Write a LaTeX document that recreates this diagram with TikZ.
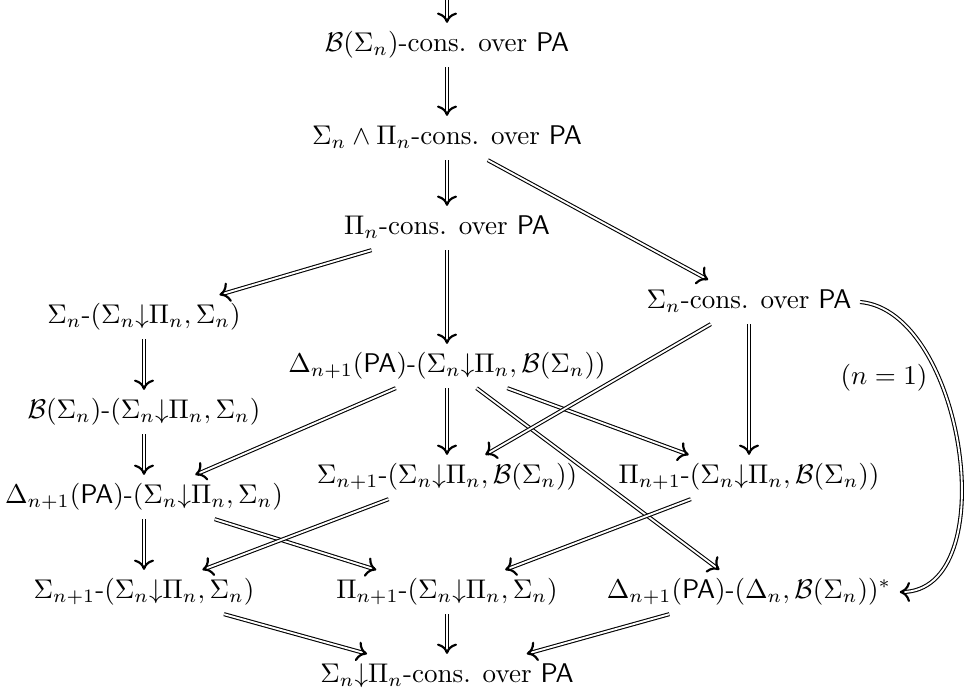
\documentclass[tikz,border=0pt]{standalone}
\usepackage{amsmath}
\usetikzlibrary{arrows.meta}
\begin{document}
\begin{tikzpicture}[x=0.37pt,y=-0.37pt,
  lbl/.style={inner sep=3pt, text height=7.5pt, text depth=2.5pt},
  imp/.style={double, double distance=0.7pt, line width=0.4pt,
    -{To[length=3.8pt,width=7.4pt,line width=0.8pt]}}]
\useasboundingbox (0,0) rectangle (964,698);
\coordinate (top) at (447,-40);
\node[lbl] (bc) at (447,45) {$\mathcal{B}(\Sigma_n)$-cons. over $\mathsf{PA}$};
\node[lbl] (sp) at (447,138) {$\Sigma_n\wedge\Pi_n$-cons. over $\mathsf{PA}$};
\node[lbl] (pc) at (447,228) {$\Pi_n$-cons. over $\mathsf{PA}$};
\node[lbl] (sn) at (144,317) {$\Sigma_n$-$(\Sigma_n{\downarrow}\Pi_n,\Sigma_n)$};
\node[lbl] (sc) at (749,302) {$\Sigma_n$-cons. over $\mathsf{PA}$};
\node[lbl] (dB) at (447,366) {$\Delta_{n+1}(\mathsf{PA})$-$(\Sigma_n{\downarrow}\Pi_n,\mathcal{B}(\Sigma_n))$};
\node[lbl] (bs) at (144,412) {$\mathcal{B}(\Sigma_n)$-$(\Sigma_n{\downarrow}\Pi_n,\Sigma_n)$};
\node (lab) at (884,378) {$(n=1)$};
\node[lbl] (sB) at (447,477) {$\Sigma_{n+1}$-$(\Sigma_n{\downarrow}\Pi_n,\mathcal{B}(\Sigma_n))$};
\node[lbl] (pB) at (749,477) {$\Pi_{n+1}$-$(\Sigma_n{\downarrow}\Pi_n,\mathcal{B}(\Sigma_n))$};
\node[lbl] (dS) at (144,497) {$\Delta_{n+1}(\mathsf{PA})$-$(\Sigma_n{\downarrow}\Pi_n,\Sigma_n)$};
\node[lbl] (sS) at (144,592) {$\Sigma_{n+1}$-$(\Sigma_n{\downarrow}\Pi_n,\Sigma_n)$};
\node[lbl] (pS) at (447,592) {$\Pi_{n+1}$-$(\Sigma_n{\downarrow}\Pi_n,\Sigma_n)$};
\node[lbl] (ds) at (749,592) {$\Delta_{n+1}(\mathsf{PA})$-$(\Delta_n,\mathcal{B}(\Sigma_n))^*$};
\node[lbl] (bot) at (447,676) {$\Sigma_n{\downarrow}\Pi_n$-cons. over $\mathsf{PA}$};
\draw[imp] (top) -- (bc);
\draw[imp] (bc) -- (sp);
\draw[imp] (sp) -- (pc);
\draw[imp] (sp) -- (sc);
\draw[imp] (pc) -- (sn);
\draw[imp] (pc) -- (dB);
\draw[imp] (sn) -- (bs);
\draw[imp] (bs) -- (dS);
\draw[imp] (dB) -- (dS);
\draw[imp] (dB) -- (sB);
\draw[imp] (dB) -- (pB);
\draw[imp] (dB) -- (ds);
\draw[imp] (sc) -- (sB);
\draw[imp] (sc) -- (pB);
\draw[imp] (sc.east) to[out=-5,in=0,looseness=0.92] (ds.east);
\draw[imp] (dS) -- (sS);
\draw[imp] (dS) -- (pS);
\draw[imp] (sB) -- (sS);
\draw[imp] (pB) -- (pS);
\draw[imp] (sS) -- (bot);
\draw[imp] (pS) -- (bot);
\draw[imp] (ds) -- (bot);
\end{tikzpicture}
\end{document}
